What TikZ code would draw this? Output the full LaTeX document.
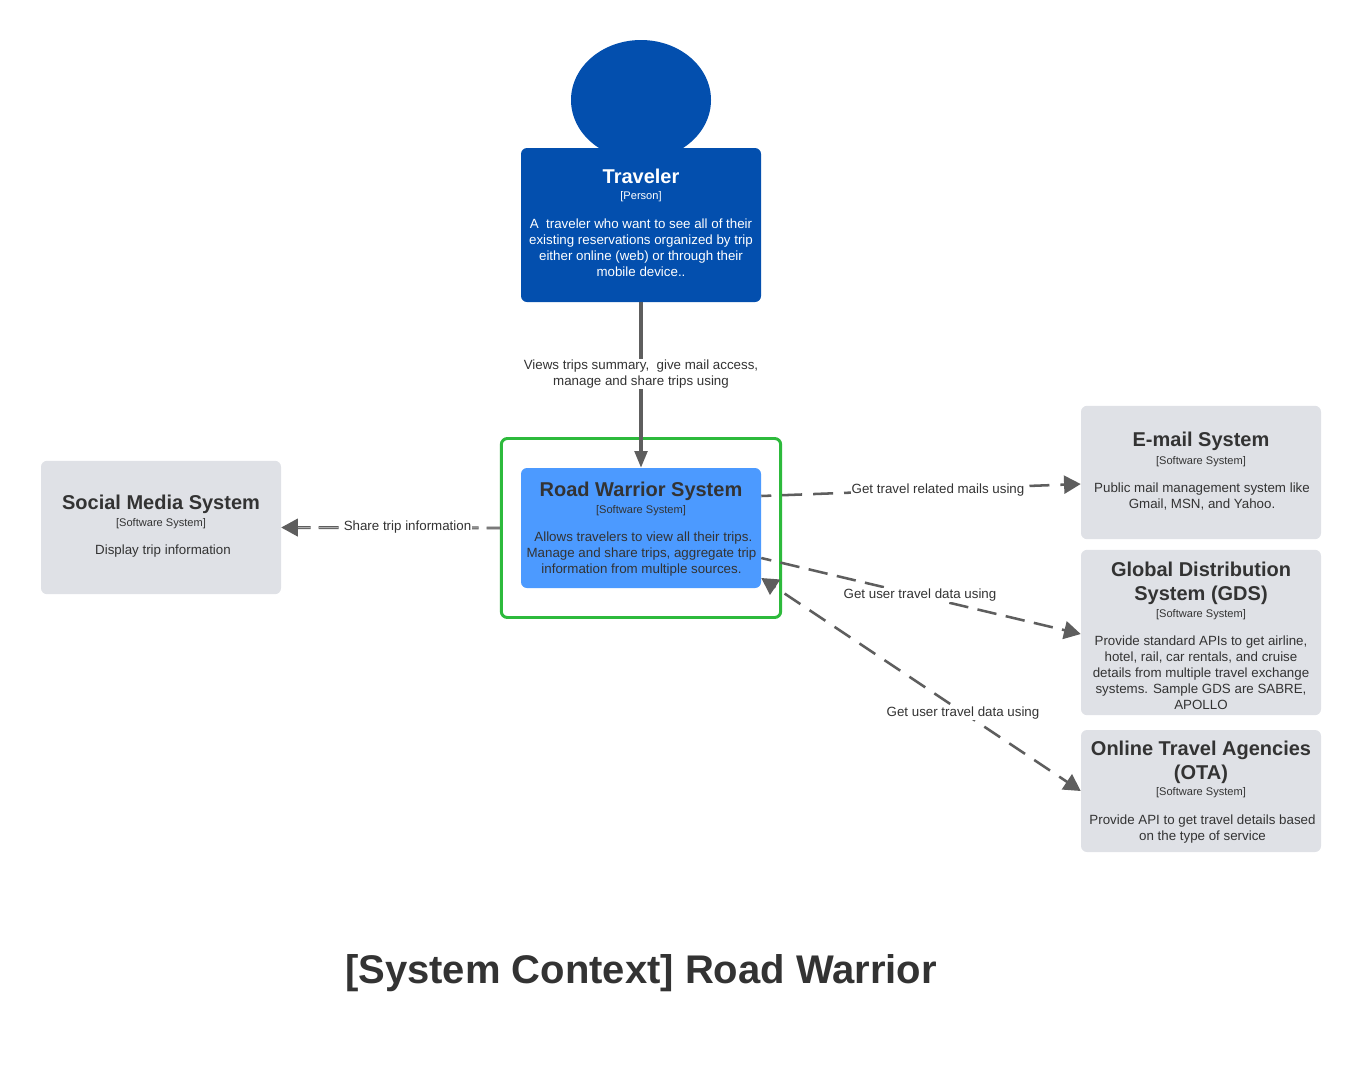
\documentclass[tikz,border=0pt]{standalone}
\usepackage{fontspec}
\setmainfont{Liberation Sans}
\usetikzlibrary{arrows.meta,calc,positioning,shapes.geometric}
\definecolor{personblue}{RGB}{3,79,174}
\definecolor{systemblue}{RGB}{76,154,255}
\definecolor{extgray}{RGB}{223,225,230}
\definecolor{boundgreen}{RGB}{45,186,60}
\definecolor{linegray}{RGB}{94,94,94}
\definecolor{inkgray}{RGB}{51,51,51}
\tikzset{
  sysbox/.style={rectangle,rounded corners=4.5pt,inner sep=0pt,minimum width=180pt},
  titletext/.style={font=\fontsize{15}{18}\selectfont\bfseries,align=center,inner sep=0pt},
  tagtext/.style={font=\fontsize{8.3}{10}\selectfont,align=center,inner sep=0pt},
  desctext/.style={font=\fontsize{10}{12}\selectfont,align=center,inner sep=0pt},
  linktext/.style={font=\fontsize{10}{12}\selectfont,align=center,inner sep=0.5pt,fill=white,text=inkgray},
  linkline/.style={draw=linegray,line width=1.9pt},
  linkhead/.style={-{Triangle[length=12.5pt,width=13.5pt]}}
}
\begin{document}
\begin{tikzpicture}[x=0.75pt,y=-0.75pt]
  \useasboundingbox (0,0) rectangle (1360,1068);
  % person
  \node[ellipse,fill=personblue,minimum width=105pt,minimum height=90pt,inner sep=0pt] (head) at (641,100) {};
  \node[sysbox,fill=personblue,minimum height=115.5pt] (traveler) at (641,225) {};
  % boundary and systems
  \node[rectangle,draw=boundgreen,line width=2.2pt,rounded corners=4.5pt,fill=white,minimum width=209.5pt,minimum height=134.25pt,inner sep=0pt] (boundary) at (641,528) {};
  \node[sysbox,fill=systemblue,minimum height=90pt] (road) at (641,528) {};
  \foreach \name/\cy/\boxht in {mail/472.5/100,gds/632.5/124,ota/791/91.5}{
    \node[sysbox,fill=extgray,minimum height=\boxht pt] (\name) at (1201,\cy) {};
  }
  \node[sysbox,fill=extgray,minimum height=100pt] (social) at (161,527.5) {};
  % end points on the box sides
  \coordinate (roadmail) at (road.east |- 0,496);
  \coordinate (mailend) at (mail.west |- 0,484);
  \coordinate (roadgds) at (road.east |- 0,558);
  \coordinate (gdsend) at (gds.west |- 0,634);
  \coordinate (roadota) at (road.east |- 0,578);
  \coordinate (otaend) at (ota.west |- 0,791);
  % connectors
  \draw[draw=linegray,line width=2.4pt,-{Triangle[length=12.5pt,width=9.5pt]}] (traveler.south) -- (road.north);
  \draw[draw=linegray,line width=0.75pt,double=linegray!50,double distance=0.7pt,dash pattern=on 15pt off 6pt,dash phase=5.25pt,{Triangle[length=12.5pt,width=13.5pt]}-] (social.east) -- (boundary.west);
  \draw[linkline,linkhead,dash pattern=on 15pt off 8.2pt,dash phase=7.5pt] (roadmail) -- (mailend);
  \draw[linkline,linkhead,dash pattern=on 14.6pt off 7.1pt,dash phase=6.9pt] (roadgds) -- (gdsend);
  \draw[linkline,dash pattern=on 14.25pt off 8.25pt,dash phase=13.5pt,{Triangle[length=12.5pt,width=13.5pt]}-{Triangle[length=12.5pt,width=13.5pt]}] (roadota) -- (otaend);
  % connector labels
  \node[linktext] (viewslabel) at (641,374) {Views trips summary,\ \ give mail access,\\manage and share trips using};
  \node[linktext] (sharelabel) at (407.5,527.5) {Share trip information};
  \node[linktext] (maillabel) at (938,490) {Get travel related mails using};
  \node[linktext] (gdslabel) at (920,595) {Get user travel data using};
  \node[linktext] (otalabel) at (963,713) {Get user travel data using};
  % box texts
  \node[titletext,text=white] (travelertitle) at (641,176) {Traveler};
  \node[titletext,text=inkgray] (roadtitle) at (641,491) {Road Warrior System};
  \node[titletext,text=inkgray] (socialtitle) at (161,504.5) {Social Media System};
  \node[titletext,text=inkgray] (mailtitle) at (1201,441.5) {E-mail System};
  \node[titletext,text=inkgray] (gdstitle) at (1201,583) {Global Distribution\\System (GDS)};
  \node[titletext,text=inkgray] (otatitle) at (1201,762) {Online Travel Agencies\\(OTA)};
  \foreach \name/\cx/\cy/\tagcol/\tagname in {traveler/641/197/white/Person,road/641/510.5/inkgray/Software System,social/161/523.5/inkgray/Software System,mail/1201/461.5/inkgray/Software System,gds/1201/614.5/inkgray/Software System,ota/1201/793/inkgray/Software System}{
    \node[tagtext,text=\tagcol] (\name tag) at (\cx,\cy) {[\tagname]};
  }
  \node[desctext,text=white] (travelerdesc) at (641,247.5) {A\ \ traveler who want to see all of their\\existing reservations organized by trip\\either online (web) or through their\\mobile device..};
  \node[desctext,text=inkgray] (roaddesc) at (641.5,554.5) {\ Allows travelers to view all their trips.\\Manage and share trips, aggregate trip\\information from multiple sources.};
  \node[desctext,text=inkgray] (socialdesc) at (163,551) {Display trip information};
  \node[desctext,text=inkgray] (maildesc) at (1202,497) {Public mail management system like\\Gmail, MSN, and Yahoo.};
  \node[desctext,text=inkgray] (gdsdesc) at (1201,672.5) {Provide standard APIs to get airline,\\hotel, rail, car rentals, and cruise\\details from multiple travel exchange\\systems. Sample GDS are SABRE,\\APOLLO};
  \node[desctext,text=inkgray] (otadesc) at (1202.5,829.5) {Provide API to get travel details based\\on the type of service};
  % title
  \node[font=\fontsize{30}{36}\selectfont\bfseries,text=inkgray,inner sep=0pt] (pagetitle) at (641,973) {[System Context] Road Warrior};
\end{tikzpicture}
\end{document}
